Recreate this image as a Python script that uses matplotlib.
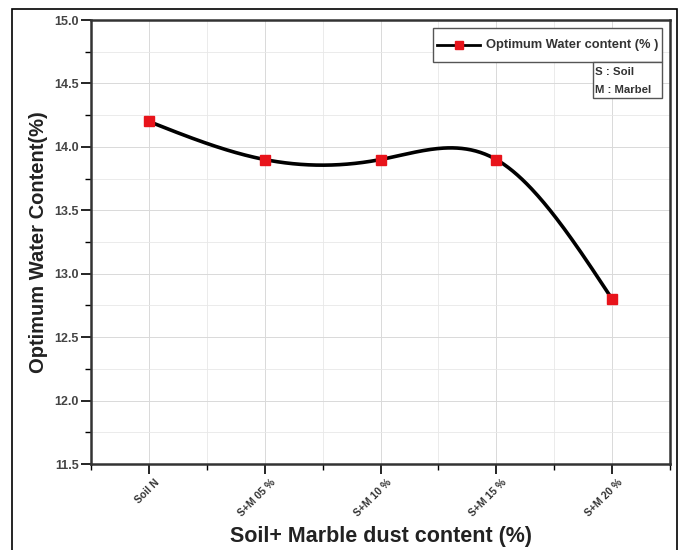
import numpy as np
import matplotlib.pyplot as plt
from matplotlib.patches import Rectangle
from matplotlib.ticker import MultipleLocator
from matplotlib.transforms import ScaledTranslation

categories = ['Soil N', 'S+M 05 %', 'S+M 10 %', 'S+M 15 %', 'S+M 20 %']
water_content = [14.2, 13.9, 13.9, 13.9, 12.8]

plt.rcParams['font.family'] = ['Liberation Sans', 'DejaVu Sans']


def natural_spline(x, y, n=300):
    # smooth connecting line like the original Origin plot
    x = np.asarray(x, float)
    y = np.asarray(y, float)
    k = len(x)
    h = np.diff(x)
    A = np.zeros((k, k))
    b = np.zeros(k)
    A[0, 0] = A[-1, -1] = 1
    for i in range(1, k - 1):
        A[i, i - 1] = h[i - 1]
        A[i, i] = 2 * (h[i - 1] + h[i])
        A[i, i + 1] = h[i]
        b[i] = 6 * ((y[i + 1] - y[i]) / h[i] - (y[i] - y[i - 1]) / h[i - 1])
    m = np.linalg.solve(A, b)
    xs = np.linspace(x[0], x[-1], n)
    idx = np.clip(np.searchsorted(x, xs) - 1, 0, k - 2)
    t = xs - x[idx]
    hi = h[idx]
    a = y[idx]
    bb = (y[idx + 1] - y[idx]) / hi - hi * (2 * m[idx] + m[idx + 1]) / 6
    c = m[idx] / 2
    d = (m[idx + 1] - m[idx]) / (6 * hi)
    return xs, a + bb * t + c * t**2 + d * t**3


fig = plt.figure(figsize=(6.79, 5.5), dpi=100)
ax = fig.add_axes([91 / 679, (550 - 464) / 550, (670 - 91) / 679, (464 - 20) / 550])

x = np.arange(len(categories))
xs, ys = natural_spline(x, water_content)
ax.plot(xs, ys, color='black', linewidth=2.6, zorder=3)
ax.plot(x, water_content, linestyle='none', marker='s', markersize=7,
        color='#e8141b', markeredgecolor='#e8141b', zorder=4)

ax.set_xlim(-0.5, 4.5)
ax.set_ylim(11.5, 15.0)
ax.set_xticks(x)
ax.xaxis.set_minor_locator(MultipleLocator(0.5))
ax.yaxis.set_major_locator(MultipleLocator(0.5))
ax.yaxis.set_minor_locator(MultipleLocator(0.25))

ax.tick_params(which='major', direction='out', length=7, width=1.2,
               top=False, right=False)
ax.tick_params(which='minor', direction='out', length=4, width=1.0,
               top=False, right=False)
ax.tick_params(axis='y', pad=2)

ax.set_xticklabels(categories, rotation=45, ha='right', va='center',
                   rotation_mode='anchor', fontsize=7.5, fontweight='bold',
                   color='#333333')
ax.set_yticklabels([f'{v:.1f}' for v in ax.get_yticks()], fontsize=9,
                   fontweight='bold', color='#444444')
# push the slanted labels a little right, as in the original
shift = ScaledTranslation(6.5 / 72, -1.5 / 72, fig.dpi_scale_trans)
for lab in ax.get_xticklabels():
    lab.set_transform(lab.get_transform() + shift)

ax.grid(True, which='major', color='#d9d9d9', linewidth=0.7)
ax.grid(True, which='minor', color='#e8e8e8', linewidth=0.6)
ax.set_axisbelow(True)
for s in ax.spines.values():
    s.set_linewidth(1.8)
    s.set_color('#333333')

ax.set_xlabel('Soil+ Marble dust content (%)', fontsize=15.5, fontweight='bold',
              color='#222222', labelpad=5.5)
ax.set_ylabel('Optimum Water Content(%)', fontsize=14.5, fontweight='bold',
              color='#222222', labelpad=4)

# legend box
ax.add_patch(Rectangle((0.591, 0.905), 0.396, 0.077, transform=ax.transAxes,
                       facecolor='white', edgecolor='#555555', linewidth=1.0, zorder=5))
ax.plot([0.598, 0.672], [0.944, 0.944], transform=ax.transAxes, color='black',
        linewidth=2.0, zorder=6)
ax.plot([0.636], [0.944], transform=ax.transAxes, marker='s', markersize=6,
        color='#e8141b', zorder=7)
ax.text(0.682, 0.944, 'Optimum Water content (% )', transform=ax.transAxes,
        fontsize=9.3, fontweight='bold', color='#333333', va='center', zorder=6)

ax.add_patch(Rectangle((0.867, 0.824), 0.120, 0.081, transform=ax.transAxes,
                       facecolor='white', edgecolor='#555555', linewidth=1.0, zorder=5))
ax.text(0.871, 0.884, 'S : Soil', transform=ax.transAxes, fontsize=8.2,
        fontweight='bold', color='#333333', va='center', zorder=6)
ax.text(0.871, 0.843, 'M : Marbel', transform=ax.transAxes, fontsize=8.2,
        fontweight='bold', color='#333333', va='center', zorder=6)

# outer frame around the figure
fig.patches.append(Rectangle((12 / 679, -0.01), (677 - 12) / 679, (550 - 9) / 550 + 0.01,
                             transform=fig.transFigure, fill=False,
                             edgecolor='black', linewidth=1.2))

fig.savefig('out.png', dpi=100)
